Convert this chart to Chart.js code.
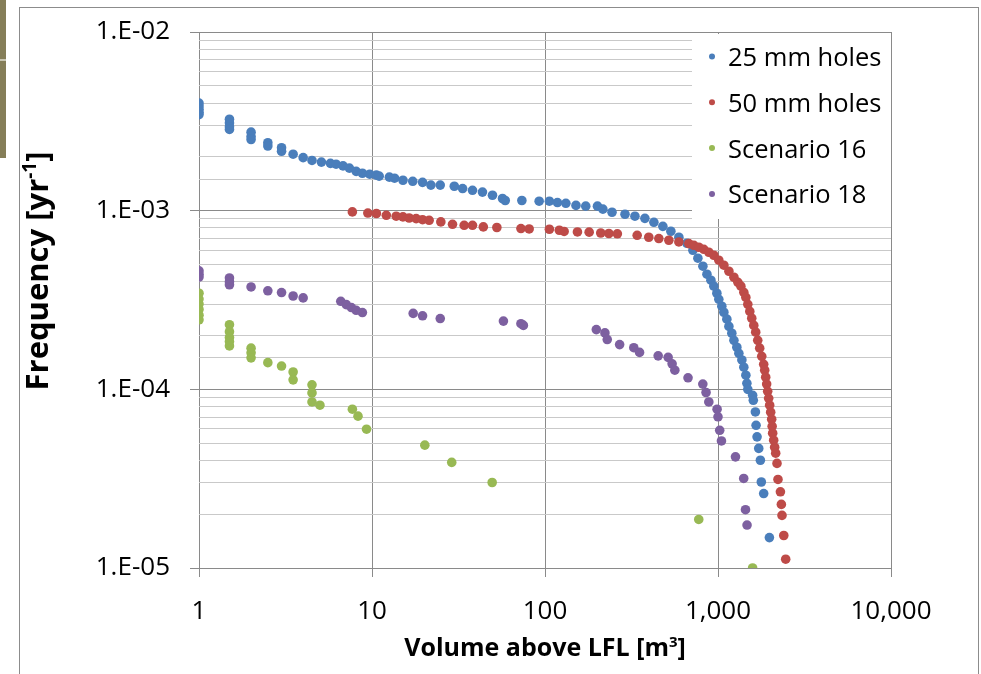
<!DOCTYPE html>
<html>
<head>
<meta charset="utf-8">
<title>Frequency vs volume above LFL</title>
<script src="https://cdn.jsdelivr.net/npm/chart.js@4.4.1/dist/chart.umd.min.js"></script>
<style>
  html, body { margin: 0; padding: 0; background: #fff; }
  #wrap { position: relative; width: 981px; height: 674px; overflow: hidden; }
  #frame { position: absolute; left: 19px; top: 7px; width: 958px; height: 700px; border: 1px solid #8c8c8c; }
  #tab { position: absolute; left: 0; top: 0; width: 6px; height: 158px; background: #857e58; }
  #tab div { position: absolute; left: 0; top: 59px; width: 6px; height: 2px; background: #c9c6b2; }
  canvas { position: absolute; left: 0; top: 0; }
</style>
</head>
<body>
<div id="wrap">
  <div id="frame"></div>
  <div id="tab"><div></div></div>
  <canvas id="chart" width="981" height="674"></canvas>
</div>
<script>
// 25 mm holes
const holes25X = [1, 1, 1, 1, 1,
  1.5, 1.5, 1.5, 1.5,
  2, 2, 2, 2.5, 2.5, 3, 3,
  3.5, 4, 4.5, 5.1, 5.75, 6.2, 6.8, 7.4, 8.1, 8.8,
  9.7, 10.6, 11.0, 12.6, 13.5, 15.1, 17.2, 19.6, 21.9, 24.8,
  29.9, 33.4, 38.1, 43.5, 49.7, 56.8, 58.9, 73.5, 92.5, 106,
  118, 132, 151, 172, 201, 216, 244, 290, 331, 378,
  426, 480, 534, 594, 661, 716, 765, 818, 863, 910,
  946, 985, 1011, 1052, 1081, 1125, 1156, 1202, 1236, 1285,
  1320, 1374, 1410, 1449, 1469, 1487, 1586, 1600, 1645, 1660,
  1682, 1720, 1758, 1780, 1837, 1982];
const holes25Y = [4.0e-3, 3.85e-3, 3.7e-3, 3.55e-3, 3.45e-3,
  3.25e-3, 3.1e-3, 2.95e-3, 2.85e-3,
  2.75e-3, 2.6e-3, 2.5e-3, 2.4e-3, 2.3e-3, 2.25e-3, 2.15e-3,
  2.07e-3, 1.98e-3, 1.91e-3, 1.87e-3, 1.84e-3, 1.82e-3, 1.78e-3, 1.73e-3, 1.66e-3, 1.62e-3,
  1.60e-3, 1.58e-3, 1.56e-3, 1.54e-3, 1.52e-3, 1.48e-3, 1.46e-3, 1.44e-3, 1.39e-3, 1.39e-3,
  1.37e-3, 1.33e-3, 1.30e-3, 1.27e-3, 1.22e-3, 1.17e-3, 1.14e-3, 1.14e-3, 1.13e-3, 1.13e-3,
  1.11e-3, 1.10e-3, 1.07e-3, 1.06e-3, 1.06e-3, 1.02e-3, 9.80e-4, 9.55e-4, 9.31e-4, 9.06e-4,
  8.61e-4, 8.17e-4, 7.67e-4, 7.10e-4, 6.57e-4, 6.00e-4, 5.42e-4, 4.89e-4, 4.41e-4, 4.08e-4,
  3.78e-4, 3.45e-4, 3.19e-4, 2.92e-4, 2.70e-4, 2.47e-4, 2.25e-4, 2.06e-4, 1.88e-4, 1.72e-4,
  1.59e-4, 1.46e-4, 1.33e-4, 1.20e-4, 1.08e-4, 1.0e-4, 9.26e-5, 8.68e-5, 7.47e-5, 6.29e-5,
  5.42e-5, 4.67e-5, 4.01e-5, 3.03e-5, 2.61e-5, 1.48e-5];

// 50 mm holes
const holes50X = [7.7, 9.46, 10.6, 12.1, 13.8, 15.1, 16.4, 18.0, 19.6, 21.4,
  25.0, 29.2, 34.1, 38.1, 44, 52.7, 72.6, 81, 106, 121,
  129, 154, 180, 210, 234, 262, 341, 398, 455, 520, 594,
  678, 725, 775, 828, 885, 946, 1011, 1081, 1156, 1236,
  1303, 1356, 1410, 1449, 1487, 1527, 1567, 1610, 1652, 1697,
  1742, 1790, 1837, 1862, 1887, 1911, 1937, 1963, 1989, 2016,
  2043, 2056, 2070, 2098, 2126, 2155,
  2193, 2222, 2295, 2324, 2344, 2400, 2462];
const holes50Y = [9.84e-4, 9.70e-4, 9.64e-4, 9.42e-4, 9.31e-4, 9.23e-4, 9.10e-4, 9.03e-4, 8.90e-4, 8.83e-4,
  8.65e-4, 8.39e-4, 8.28e-4, 8.28e-4, 8.11e-4, 8.05e-4, 7.94e-4, 7.90e-4, 7.87e-4, 7.77e-4,
  7.65e-4, 7.60e-4, 7.58e-4, 7.50e-4, 7.45e-4, 7.42e-4, 7.28e-4, 7.10e-4, 6.98e-4, 6.83e-4, 6.68e-4,
  6.54e-4, 6.40e-4, 6.24e-4, 6.08e-4, 5.85e-4, 5.63e-4, 5.28e-4, 4.95e-4, 4.58e-4, 4.24e-4,
  3.97e-4, 3.78e-4, 3.49e-4, 3.27e-4, 2.99e-4, 2.73e-4, 2.50e-4, 2.28e-4, 2.09e-4, 1.88e-4,
  1.70e-4, 1.53e-4, 1.38e-4, 1.28e-4, 1.17e-4, 1.07e-4, 9.75e-5, 8.91e-5, 8.15e-5, 7.45e-5,
  6.80e-5, 6.21e-5, 5.68e-5, 5.19e-5, 4.74e-5, 4.39e-5,
  3.85e-5, 3.13e-5, 2.67e-5, 2.27e-5, 1.97e-5, 1.52e-5, 1.12e-5];

// Scenario 16
const scen16X = [1, 1, 1, 1, 1, 1,
  1.5, 1.5, 1.5, 1.5, 1.5,
  2, 2, 2, 2.5, 3, 3.5, 3.5,
  4.5, 4.5, 4.5, 5, 7.7, 8.3, 9.3,
  20.2, 28.9, 49.5, 774, 1585];
const scen16Y = [3.45e-4, 3.2e-4, 3.0e-4, 2.8e-4, 2.6e-4, 2.45e-4,
  2.3e-4, 2.1e-4, 1.95e-4, 1.85e-4, 1.75e-4,
  1.7e-4, 1.6e-4, 1.5e-4, 1.41e-4, 1.35e-4, 1.25e-4, 1.13e-4,
  1.06e-4, 9.55e-5, 8.5e-5, 8.15e-5, 7.74e-5, 7.08e-5, 5.98e-5,
  4.87e-5, 3.9e-5, 3.01e-5, 1.87e-5, 1.0e-5];

// Scenario 18
const scen18X = [1, 1, 1, 1.5, 1.5, 1.5,
  2, 2.5, 3, 3.5, 4, 6.6, 7.1, 7.6, 8.1, 8.8,
  17.3, 19.6, 24.8, 57.5, 72.6, 75, 198, 222, 229, 270,
  326, 352, 451, 515, 543, 563, 671, 817, 853, 885,
  988, 1000, 1023, 1047, 1262, 1408, 1442, 1472];
const scen18Y = [4.6e-4, 4.4e-4, 4.25e-4, 4.2e-4, 4.0e-4, 3.85e-4,
  3.74e-4, 3.56e-4, 3.48e-4, 3.33e-4, 3.25e-4, 3.11e-4, 2.98e-4, 2.87e-4, 2.77e-4, 2.69e-4,
  2.66e-4, 2.58e-4, 2.49e-4, 2.41e-4, 2.33e-4, 2.28e-4, 2.16e-4, 2.07e-4, 1.90e-4, 1.78e-4,
  1.71e-4, 1.61e-4, 1.54e-4, 1.51e-4, 1.39e-4, 1.28e-4, 1.16e-4, 1.07e-4, 9.6e-5, 8.5e-5,
  7.74e-5, 7.02e-5, 5.9e-5, 5.14e-5, 4.19e-5, 3.17e-5, 2.12e-5, 1.74e-5];

const seriesNames = ['25 mm holes', '50 mm holes', 'Scenario 16', 'Scenario 18'];
const seriesColors = ['#4a7ebb', '#be4b48', '#98b954', '#7d60a0'];

const MAJOR = '#8a8a8a';
const MINOR = '#c9c9c9';
const FONT = "'Open Sans', 'DejaVu Sans', sans-serif";

function toPoints(xs, ys) {
  return xs.map((x, i) => ({ x: x, y: ys[i] }));
}

function isDecade(v) {
  const e = Math.log10(v);
  return Math.abs(e - Math.round(e)) < 1e-6;
}

function fmtY(v) {
  const e = Math.round(Math.log10(v));
  return '1.E' + (e < 0 ? '-' : '+') + String(Math.abs(e)).padStart(2, '0');
}

// text with a raised tail, centred on (0,0) of the current transform
function drawSupText(ctx, base, sup, tail, size) {
  const bigFont = 'bold ' + size + 'px ' + FONT;
  const smallFont = 'bold ' + Math.round(size * 0.6) + 'px ' + FONT;
  ctx.font = bigFont;
  const w1 = ctx.measureText(base).width;
  const w3 = ctx.measureText(tail).width;
  ctx.font = smallFont;
  const w2 = ctx.measureText(sup).width;
  let x = -(w1 + w2 + w3) / 2;
  ctx.textAlign = 'left';
  ctx.textBaseline = 'alphabetic';
  ctx.font = bigFont;
  ctx.fillText(base, x, 0);
  x += w1;
  ctx.font = smallFont;
  ctx.fillText(sup, x, -size * 0.38);
  x += w2;
  ctx.font = bigFont;
  ctx.fillText(tail, x, 0);
}

// axis titles and the boxed legend in the upper right of the plot
const extras = {
  id: 'extras',
  afterDatasetsDraw(chart) {
    const ctx = chart.ctx;
    const area = chart.chartArea;
    ctx.save();
    ctx.fillStyle = '#000';

    ctx.save();
    ctx.translate((area.left + area.right) / 2, 656);
    drawSupText(ctx, 'Volume above LFL [m', '3', ']', 25);
    ctx.restore();

    ctx.save();
    ctx.translate(48, 271);
    ctx.rotate(-Math.PI / 2);
    drawSupText(ctx, 'Frequency [yr', '-1', ']', 31);
    ctx.restore();

    const boxLeft = area.right - 199;
    const boxTop = area.top + 2;
    ctx.fillStyle = '#fff';
    ctx.fillRect(boxLeft, boxTop, 199, 185);
    ctx.font = '25.5px ' + FONT;
    ctx.textAlign = 'left';
    ctx.textBaseline = 'alphabetic';
    seriesNames.forEach((name, i) => {
      const base = boxTop + 32 + i * 45.8;
      ctx.fillStyle = seriesColors[i];
      ctx.beginPath();
      ctx.arc(boxLeft + 20, base - 9.5, 3, 0, Math.PI * 2);
      ctx.fill();
      ctx.fillStyle = '#000';
      ctx.fillText(name, boxLeft + 36, base);
    });
    ctx.restore();
  }
};

const pointSets = [
  toPoints(holes25X, holes25Y),
  toPoints(holes50X, holes50Y),
  toPoints(scen16X, scen16Y),
  toPoints(scen18X, scen18Y)
];

new Chart(document.getElementById('chart'), {
  type: 'scatter',
  data: {
    datasets: pointSets.map((pts, i) => ({
      label: seriesNames[i],
      data: pts,
      backgroundColor: seriesColors[i],
      borderWidth: 0,
      pointRadius: 4.8,
      pointHoverRadius: 4.8,
      order: 4 - i
    }))
  },
  options: {
    responsive: false,
    animation: false,
    layout: { padding: { top: 32, right: 90, left: 0, bottom: 0 } },
    plugins: { legend: { display: false }, tooltip: { enabled: false } },
    scales: {
      x: {
        type: 'logarithmic',
        min: 1,
        max: 10000,
        afterFit(s) { s.height = 106; },
        border: { display: false },
        grid: {
          color: c => isDecade(c.tick.value) ? MAJOR : 'rgba(0,0,0,0)',
          tickColor: c => isDecade(c.tick.value) ? MAJOR : 'rgba(0,0,0,0)',
          tickLength: 9,
          lineWidth: 1
        },
        ticks: {
          autoSkip: false,
          maxRotation: 0,
          padding: 19,
          color: '#000',
          font: { family: FONT, size: 26 },
          callback: v => isDecade(v) ? Math.round(v).toLocaleString('en-US') : ''
        }
      },
      y: {
        type: 'logarithmic',
        min: 1e-5,
        max: 1e-2,
        afterFit(s) {
          s.width = 199;
          // keep the label padding from pushing the plot area down
          s.paddingTop = 0;
          s.paddingBottom = 0;
        },
        border: { display: false },
        grid: {
          color: c => isDecade(c.tick.value) ? MAJOR : MINOR,
          tickColor: c => isDecade(c.tick.value) ? MAJOR : 'rgba(0,0,0,0)',
          tickLength: 9,
          lineWidth: 1
        },
        ticks: {
          autoSkip: false,
          padding: 20,
          color: '#000',
          font: { family: FONT, size: 26 },
          callback: v => isDecade(v) ? fmtY(v) : ''
        }
      }
    }
  },
  plugins: [extras]
});
</script>
</body>
</html>
